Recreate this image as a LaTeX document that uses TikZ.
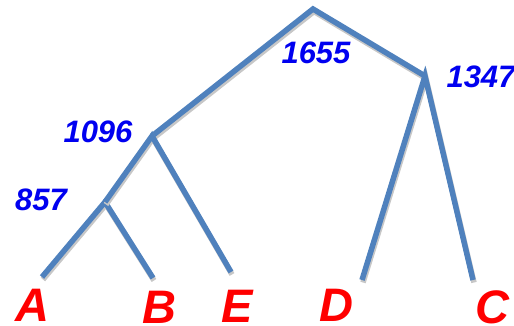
\documentclass[tikz,border=0pt]{standalone}
\usepackage{fontspec}
\setmainfont{Liberation Sans}
\usetikzlibrary{positioning}
\definecolor{branch}{RGB}{79,129,189}
\definecolor{numblue}{RGB}{0,0,240}
\definecolor{leafred}{RGB}{255,0,0}

\begin{document}
\begin{tikzpicture}[x=1pt, y=-1pt,
  branch/.style={draw=branch, line width=5.5pt, line cap=butt, line join=miter,
    preaction={draw=black!22, line width=5.5pt, transform canvas={shift={(1pt,-2.5pt)}}}},
  height/.style={text=numblue, inner sep=0pt, font=\fontsize{31}{31}\selectfont\bfseries\itshape},
  leaf/.style={text=leafred, inner sep=0pt, font=\fontsize{47}{47}\selectfont\bfseries\itshape}]
\path[use as bounding box] (0,0) rectangle (514,326);
\coordinate (root) at (313,9);
\coordinate (DC) at (425,76);
\coordinate (ABE) at (152,136);
\coordinate (AB) at (105,202);
\coordinate (a) at (42,277);
\coordinate (b) at (153,278);
\coordinate (e) at (231,272);
\coordinate (d) at (362,280);
\coordinate (c) at (473,280);
\node[height] (h1655) at (316,53) {1655};
\node[height] (h1347) at (481,77) {1347};
\node[height] (h1096) at (98,132) {1096};
\node[height] (h857) at (41,200) {857};
\node[leaf] (A) at (32,305) {A};
\node[leaf] (B) at (159,307) {B};
\node[leaf] (E) at (237,306) {E};
\node[leaf] (D) at (336,305) {D};
\node[leaf] (C) at (492,307) {C};
\draw[branch] (ABE) -- (root) -- (DC);
\draw[branch] (a) -- (AB) -- (b);
\draw[branch] (AB) -- (ABE) -- (e);
\draw[branch] (d) -- (DC) -- (c);
\end{tikzpicture}
\end{document}
